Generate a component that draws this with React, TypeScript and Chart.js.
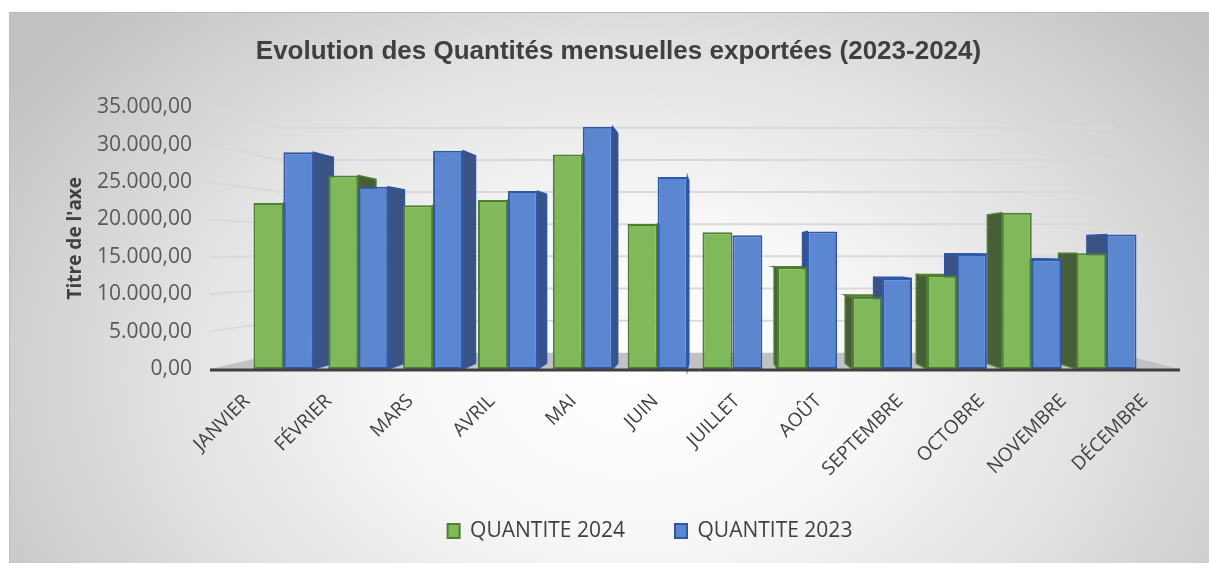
import React, { useEffect, useRef } from "react";
import { Chart, registerables } from "chart.js";

Chart.register(...registerables);

const months = ["JANVIER", "FÉVRIER", "MARS", "AVRIL", "MAI", "JUIN", "JUILLET", "AOÛT", "SEPTEMBRE", "OCTOBRE", "NOVEMBRE", "DÉCEMBRE"];
const quantite2024 = [22200, 25900, 21900, 22600, 28700, 19400, 18300, 13600, 9600, 12500, 20900, 15500];
const quantite2023 = [29000, 24400, 29200, 23800, 32400, 25700, 17900, 18400, 12100, 15400, 14700, 18000];
const seriesLabels = ["QUANTITE 2024", "QUANTITE 2023"];
const titleText = "Evolution des Quantités mensuelles exportées (2023-2024)";
const yAxisTitle = "Titre de l'axe";
const yMin = 0;
const yMax = 35000;
const yStep = 5000;

const GREEN = { front: "#7fb95a", border: "#4f7f32", side: "#475f38", top: "#6a9a4a" };
const BLUE = { front: "#5b87d1", border: "#2f58a8", side: "#3a5284", top: "#4a74bf" };

const K_BAR = 0.05;
const K_WALL = 0.14;

const fmt = (v: number) =>
  Math.round(v).toString().replace(/\B(?=(\d{3})+(?!\d))/g, ".") + ",00";

const threeD = {
  id: "threeD",
  afterLayout(chart: any) {
    const t = chart.titleBlock;
    if (t) {
      t.left += 9.5;
      t.right += 9.5;
    }
    const l = chart.legend;
    if (l) {
      l.left += 41;
      l.right += 41;
      l.top -= 11.5;
      l.bottom -= 11.5;
    }
  },
  beforeDatasetsDraw(chart: any) {
    const { ctx, chartArea, scales } = chart;
    const { left, right, bottom } = chartArea;
    const y = scales.y;
    const vx = left + 0.52 * (right - left);
    const vy = y.getPixelForValue(15500);
    const proj = (px: number, py: number, k: number) => [px + k * (vx - px), py + k * (vy - py)];
    const fl = left - 36;
    const fr = right + 36;
    ctx.save();
    const bl = proj(fl, bottom, K_WALL);
    const br = proj(fr, bottom, K_WALL);
    ctx.fillStyle = "#c2c2c2";
    ctx.beginPath();
    ctx.moveTo(fl, bottom);
    ctx.lineTo(fr, bottom);
    ctx.lineTo(br[0], br[1]);
    ctx.lineTo(bl[0], bl[1]);
    ctx.closePath();
    ctx.fill();
    ctx.strokeStyle = "#d9d9d9";
    ctx.lineWidth = 2;
    for (const t of y.ticks) {
      if (t.value === 0) continue;
      const py = y.getPixelForValue(t.value);
      const b = proj(fl, py, K_WALL);
      const e = proj(fr, py, K_WALL);
      ctx.beginPath();
      ctx.moveTo(fl, py);
      ctx.lineTo(b[0], b[1]);
      ctx.lineTo(e[0], e[1]);
      ctx.stroke();
    }
    chart.data.datasets.forEach((ds: any, di: number) => {
      const meta = chart.getDatasetMeta(di);
      const col = di === 0 ? GREEN : BLUE;
      meta.data.forEach((el: any) => {
        const { x, y: ty, base, width } = el.getProps(["x", "y", "base", "width"], true);
        const xl = x - width / 2;
        const xr = x + width / 2;
        const poly = (pts: number[][], fill: string) => {
          ctx.beginPath();
          ctx.moveTo(pts[0][0], pts[0][1]);
          for (let i = 1; i < pts.length; i++) ctx.lineTo(pts[i][0], pts[i][1]);
          ctx.closePath();
          ctx.fillStyle = fill;
          ctx.fill();
          ctx.strokeStyle = col.border;
          ctx.lineWidth = 1.5;
          ctx.stroke();
        };
        const sideX = xr < vx - 20 ? xr : xl > vx + 20 ? xl : null;
        if (sideX !== null) {
          poly([[sideX, ty], proj(sideX, ty, K_BAR), proj(sideX, base, K_BAR), [sideX, base]], col.side);
        }
        if (ty > vy) {
          poly([[xl, ty], [xr, ty], proj(xr, ty, K_BAR), proj(xl, ty, K_BAR)], col.top);
        }
      });
    });
    ctx.restore();
  },
  afterDatasetsDraw(chart: any) {
    const { ctx, chartArea } = chart;
    const { left, right, bottom } = chartArea;
    ctx.save();
    ctx.strokeStyle = "#404040";
    ctx.lineWidth = 3;
    ctx.beginPath();
    ctx.moveTo(left - 36, bottom + 1);
    ctx.lineTo(right + 36, bottom + 1);
    ctx.stroke();
    ctx.restore();
  },
};

export default function App() {
  const ref = useRef<HTMLCanvasElement | null>(null);
  useEffect(() => {
    if (!ref.current) return;
    Chart.defaults.font.family = "'Open Sans', sans-serif";
    const chart = new Chart(ref.current, {
      type: "bar",
      data: {
        labels: months,
        datasets: [
          {
            label: seriesLabels[0],
            data: quantite2024,
            backgroundColor: GREEN.front,
            borderColor: GREEN.border,
            borderWidth: 2,
            borderSkipped: false,
            categoryPercentage: 0.8,
            barPercentage: 1.0,
          },
          {
            label: seriesLabels[1],
            data: quantite2023,
            backgroundColor: BLUE.front,
            borderColor: BLUE.border,
            borderWidth: 2,
            borderSkipped: false,
            categoryPercentage: 0.8,
            barPercentage: 1.0,
          },
        ],
      },
      options: {
        responsive: false,
        animation: false,
        layout: { padding: { left: 0, right: 0, top: 0, bottom: 0 } },
        plugins: {
          title: {
            display: true,
            text: titleText,
            color: "#404040",
            font: { family: "'Liberation Sans', Arial, sans-serif", size: 26, weight: "bold", lineHeight: 1.2 },
            padding: { top: 24.4, bottom: 39.8 },
          },
          legend: {
            position: "bottom",
            labels: {
              color: "#404040",
              font: { size: 21 },
              boxWidth: 12,
              boxHeight: 14,
              padding: 50,
            },
          },
          tooltip: { enabled: false },
        },
        scales: {
          x: {
            grid: { display: false, drawTicks: false },
            border: { display: false },
            ticks: { display: false },
            afterFit: (s: any) => {
              s.height = 0;
            },
          },
          x2: {
            type: "category",
            position: "bottom",
            offset: false,
            grid: { display: false, drawTicks: false },
            border: { display: false },
            ticks: {
              color: "#404040",
              font: { size: 19 },
              minRotation: 45,
              maxRotation: 45,
              autoSkip: false,
              padding: 21,
              labelOffset: 1,
            },
            afterFit: (s: any) => {
              s.height = 113;
            },
          },
          y: {
            min: yMin,
            max: yMax,
            grid: { display: false, drawTicks: false },
            border: { display: false },
            ticks: {
              stepSize: yStep,
              color: "#595959",
              font: { size: 21 },
              padding: 54,
              callback: (v: any) => fmt(Number(v)),
            },
            title: {
              display: true,
              text: yAxisTitle,
              color: "#404040",
              font: { size: 19, weight: "bold", lineHeight: 1.2 },
              padding: { top: 55, bottom: 0 },
            },
            afterFit: (s: any) => {
              s.width = 237;
            },
          },
          y2: {
            position: "right",
            display: true,
            grid: { display: false, drawTicks: false },
            border: { display: false },
            ticks: { display: false },
            afterFit: (s: any) => {
              s.width = 65;
            },
          },
        },
      },
      plugins: [threeD],
    });
    return () => chart.destroy();
  }, []);

  return (
    <div
      style={{
        position: "fixed",
        left: 9,
        top: 12,
        width: 1200,
        height: 551,
        borderTop: "1px solid #b8b8b8",
        borderLeft: "1px solid #c0c0c0",
        boxSizing: "border-box",
        background:
          "radial-gradient(ellipse 62% 95% at 52% 66%, #ffffff 0%, #f8f8f8 30%, #e2e2e2 62%, #c2c2c2 100%)",
      }}
    >
      <canvas ref={ref} width={1200} height={551} style={{ display: "block", width: 1200, height: 551, position: "absolute", left: -1, top: -1 }} />
    </div>
  );
}
